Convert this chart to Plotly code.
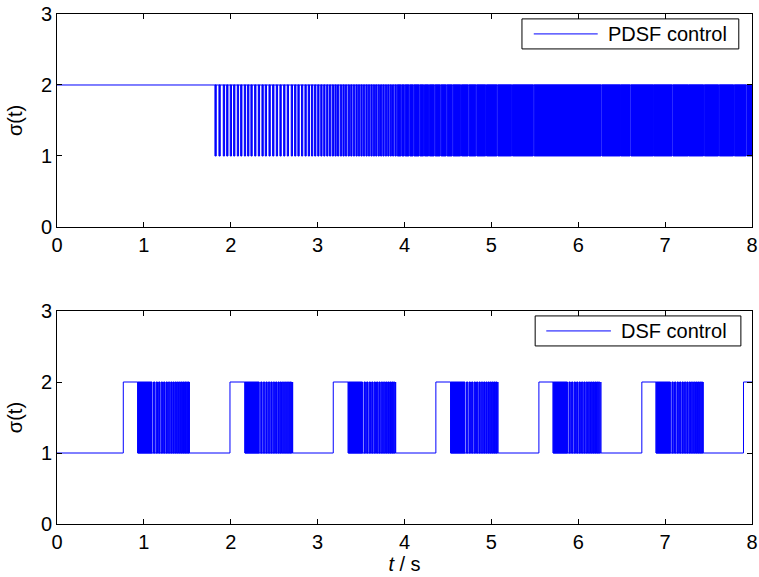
import plotly.graph_objects as go

# ---------------- PDSF control (upper panel) ----------------
pdsf_start_level = 2
# instants (s) of the short dips 2 -> 1 -> 2 after switching begins
pdsf_pulses = [1.818, 1.864, 1.914, 1.953, 1.994, 2.033, 2.075, 2.114, 2.156, 2.194,
               2.232, 2.275, 2.317, 2.359, 2.397, 2.440, 2.482, 2.524, 2.566, 2.609,
               2.650, 2.696, 2.735, 2.773, 2.814, 2.854, 2.892, 2.929, 2.965, 3.001,
               3.036, 3.070, 3.104, 3.136, 3.168, 3.199, 3.229, 3.261, 3.291, 3.320,
               3.351, 3.381, 3.411, 3.441, 3.469, 3.498, 3.527, 3.556, 3.584, 3.613,
               3.641, 3.668, 3.696, 3.724, 3.751, 3.779, 3.807, 3.834, 3.862, 3.890,
               3.917]
pdsf_pulse_len = 0.015
# after this instant the switching is continuous until the end
pdsf_chatter_from = 3.930
pdsf_end = 8.0
# short pauses in the continuous switching: start (s) and duration (s)
pdsf_pauses = [3.959, 3.997, 4.051, 4.100, 4.169, 4.220, 4.277, 4.342, 4.411, 4.480,
               4.549, 4.646, 4.733, 4.822, 4.934, 5.064, 5.233, 5.482, 6.263, 6.481,
               6.596, 6.865, 7.080, 7.269, 7.442, 7.614, 7.787, 7.932]
pdsf_pause_len = [0.010, 0.010, 0.010, 0.010, 0.010, 0.010, 0.010, 0.010, 0.010, 0.010,
                  0.010, 0.010, 0.010, 0.010, 0.010, 0.010, 0.010, 0.010, 0.010, 0.005,
                  0.010, 0.005, 0.010, 0.005, 0.010, 0.010, 0.010, 0.010]

# ---------------- DSF control (lower panel) ----------------
dsf_start_level = 1
# instants (s) where sigma steps 1 -> 2 at the start of each cycle
dsf_step_up = [0.763, 1.991, 3.180, 4.361, 5.547, 6.732, 7.902]
# instants (s) where switching starts and stops in each cycle
dsf_burst_on = [0.929, 2.163, 3.352, 4.531, 5.711, 6.896]
dsf_burst_off = [1.522, 2.712, 3.898, 5.075, 6.260, 7.437]
# continuous-switching part at the head of each burst (s)
dsf_dense_len = 0.165
# spikes 1 -> 2 -> 1 in the tail of a burst, relative to the burst start (s)
dsf_spike_offsets = [0.182, 0.212, 0.241, 0.270, 0.298, 0.326, 0.353, 0.380, 0.405,
                     0.430, 0.454, 0.477, 0.499, 0.520, 0.540, 0.559, 0.577]
dsf_spike_len = 0.016
dsf_end = 8.0

x_ticks = [0, 1, 2, 3, 4, 5, 6, 7, 8]
y_ticks = [0, 1, 2, 3]

BLUE = "rgb(0,0,255)"
FONT = "Liberation Sans, Arial, Helvetica, sans-serif"
FS = 20


def block(bx, by, a, b):
    """Append a rectangle between sigma = 1 and sigma = 2 spanning [a, b]."""
    bx += [a, b, b, a, a, None]
    by += [1, 1, 2, 2, 1, None]


def pdsf_traces():
    # level line
    xs = [0, pdsf_end]
    ys = [pdsf_start_level, pdsf_start_level]
    bx, by = [], []
    for t in pdsf_pulses:
        block(bx, by, t, t + pdsf_pulse_len)
    # continuous switching between the pauses
    a = pdsf_chatter_from
    for p, d in zip(pdsf_pauses, pdsf_pause_len):
        block(bx, by, a, p)
        a = p + d
    block(bx, by, a, pdsf_end)
    return (xs, ys), (bx, by)


def dsf_traces():
    xs, ys = [0], [dsf_start_level]
    bx, by = [], []
    for k, up in enumerate(dsf_step_up):
        xs += [up, up]
        ys += [1, 2]
        if k < len(dsf_burst_on):
            on, off = dsf_burst_on[k], dsf_burst_off[k]
            xs += [on, on, off, off, off]
            ys += [2, 1, 1, 2, 1]
            block(bx, by, on, on + dsf_dense_len)
            for o in dsf_spike_offsets:
                t = on + o
                if t + dsf_spike_len <= off:
                    block(bx, by, t, t + dsf_spike_len)
    xs += [dsf_end]
    ys += [2]
    return (xs, ys), (bx, by)


fig = go.Figure()

(lx, ly), (bx, by) = pdsf_traces()
fig.add_trace(go.Scatter(x=lx, y=ly, mode="lines", line=dict(color=BLUE, width=1),
                         xaxis="x", yaxis="y", showlegend=False, hoverinfo="skip"))
fig.add_trace(go.Scatter(x=bx, y=by, mode="lines", fill="toself", fillcolor=BLUE,
                         line=dict(color=BLUE, width=1), xaxis="x", yaxis="y",
                         showlegend=False, hoverinfo="skip"))

(lx, ly), (bx, by) = dsf_traces()
fig.add_trace(go.Scatter(x=lx, y=ly, mode="lines", line=dict(color=BLUE, width=1),
                         xaxis="x2", yaxis="y2", showlegend=False, hoverinfo="skip"))
fig.add_trace(go.Scatter(x=bx, y=by, mode="lines", fill="toself", fillcolor=BLUE,
                         line=dict(color=BLUE, width=1), xaxis="x2", yaxis="y2",
                         showlegend=False, hoverinfo="skip"))

axis_common = dict(showline=True, linecolor="black", linewidth=1, mirror="ticks",
                   ticks="inside", ticklen=5, tickcolor="black", showgrid=False,
                   zeroline=False, automargin=False,
                   tickfont=dict(family=FONT, size=FS, color="black"))
title_font = dict(family=FONT, size=FS, color="black")

fig.update_layout(
    width=759, height=577,
    margin=dict(l=57, r=7, t=14, b=53, autoexpand=False),
    paper_bgcolor="white", plot_bgcolor="white",
    xaxis=dict(domain=[0, 1], range=[0, 8], tickvals=x_ticks, anchor="y", **axis_common),
    yaxis=dict(domain=[0.5824, 1.0], range=[0, 3], tickvals=y_ticks, anchor="x",
               title=dict(text="σ(t)", font=title_font, standoff=12), **axis_common),
    xaxis2=dict(domain=[0, 1], range=[0, 8], tickvals=x_ticks, anchor="y2",
                title=dict(text="<i>t</i> / s", font=title_font, standoff=4), **axis_common),
    yaxis2=dict(domain=[0, 0.4176], range=[0, 3], tickvals=y_ticks, anchor="x2",
                title=dict(text="σ(t)", font=title_font, standoff=12), **axis_common),
)

# legend boxes
legends = [("x domain", "y domain", 0.669, 0.981, 0.836, 0.977, 0.686, 0.778, 0.790, "PDSF control"),
           ("x2 domain", "y2 domain", 0.688, 0.984, 0.836, 0.977, 0.704, 0.797, 0.809, "DSF control")]
for xr, yr, x0, x1, y0, y1, lx0, lx1, tx, label in legends:
    fig.add_shape(type="rect", xref=xr, yref=yr, x0=x0, x1=x1, y0=y0, y1=y1,
                  line=dict(color="black", width=1), fillcolor="white", layer="above")
    ym = (y0 + y1) / 2
    fig.add_shape(type="line", xref=xr, yref=yr, x0=lx0, x1=lx1, y0=ym, y1=ym,
                  line=dict(color=BLUE, width=1), layer="above")
    fig.add_annotation(xref=xr, yref=yr, x=tx, y=ym, text=label, showarrow=False,
                       xanchor="left", yanchor="middle", font=title_font)

fig.write_html("out.html")
